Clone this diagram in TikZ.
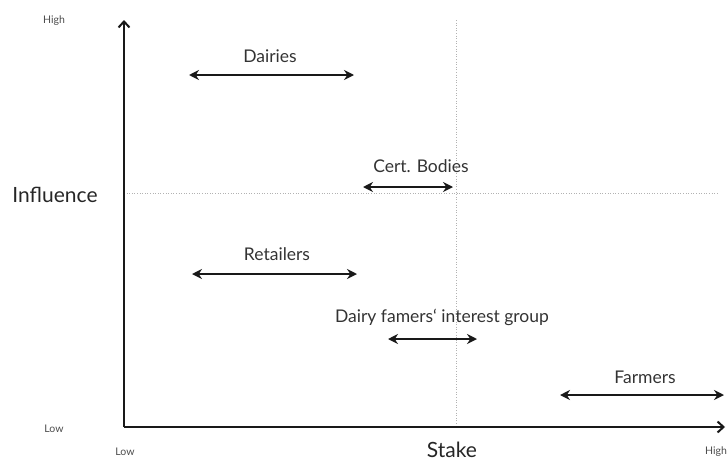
\documentclass[tikz,border=0pt]{standalone}
\usepackage{fontspec}
\setmainfont{Lato}
\usetikzlibrary{arrows.meta}
\begin{document}
\begin{tikzpicture}[x=1pt,y=-1pt,
  axis/.style={line width=2.6pt,black!90,-{Straight Barb[length=6pt,width=11pt,line width=2pt]}},
  grid/.style={gray!60,line width=0.6pt,dotted},
  bi/.style={line width=2pt,black!90,{Stealth[length=10pt,width=10pt]}-{Stealth[length=10pt,width=10pt]}},
  lbl/.style={font=\fontsize{17.5}{20}\selectfont,text=black!80,inner sep=0pt},
  big/.style={font=\fontsize{21}{24}\selectfont,text=black!85,inner sep=0pt},
  small/.style={font=\fontsize{10.5}{12}\selectfont,text=black!70,inner sep=0pt}]
\useasboundingbox (0,0) rectangle (727,463);
% grid lines
\coordinate (vt) at (456,20);
\coordinate (vb) at (456,427);
\coordinate (hl) at (124,193);
\coordinate (hr) at (718,193);
\draw[grid] (vt) -- (vb);
\draw[grid] (hl) -- (hr);
% axes
\coordinate (o) at (124,427);
\coordinate (yt) at (124,20);
\coordinate (xt) at (725,427);
\draw[axis] (o) -- (yt);
\draw[axis] (o) -- (xt);
% axis labels
\node[small] (hy) at (54,21) {High};
\node[small] (ly) at (54,429) {Low};
\node[small] (lx) at (125,452) {Low};
\node[small,anchor=west] (hx) at (705,452) {High};
\node[big] (infl) at (55,195) {Influence};
\node[big] (stake) at (452,450) {Stake};
% Dairies
\coordinate (dl) at (189,75);
\coordinate (dr) at (354,75);
\draw[bi] (dl) -- (dr);
\node[lbl] (dai) at (270,56) {Dairies};
% Cert. Bodies
\coordinate (cl) at (363,187);
\coordinate (cr) at (453,187);
\draw[bi] (cl) -- (cr);
\node[lbl] (cert) at (421,166) {Cert. Bodies};
% Retailers
\coordinate (rl) at (192,274);
\coordinate (rr) at (357,274);
\draw[bi] (rl) -- (rr);
\node[lbl] (ret) at (277,254) {Retailers};
% Dairy famers' interest group
\coordinate (il) at (388,339);
\coordinate (ir) at (477,339);
\draw[bi] (il) -- (ir);
\node[lbl] (ig) at (442,317) {Dairy famers‘ interest group};
% Farmers
\coordinate (fl) at (560,395);
\coordinate (fr) at (724,395);
\draw[bi] (fl) -- (fr);
\node[lbl] (farm) at (645,377) {Farmers};
\end{tikzpicture}
\end{document}
